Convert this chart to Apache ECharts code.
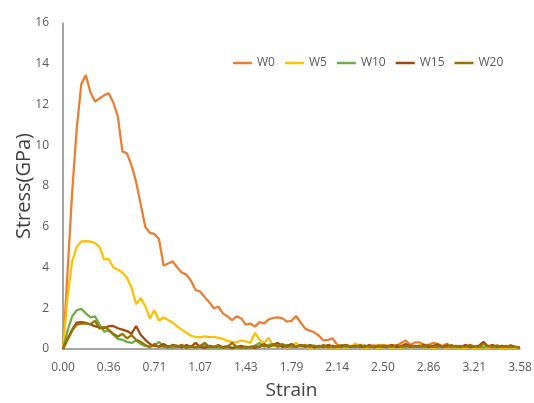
<!DOCTYPE html>
<html>
<head>
<meta charset="utf-8">
<script src="https://cdn.jsdelivr.net/npm/echarts@6/dist/echarts.min.js"></script>
<style>html,body{margin:0;padding:0;background:#fff;}#c{width:534px;height:403px;}</style>
</head>
<body>
<div id="c"></div>
<script>
const tickLabels = ['0.00','0.36','0.71','1.07','1.43','1.79','2.14','2.50','2.86','3.21','3.58'];
const seriesNames = ['W0','W5','W10','W15','W20'];
const W0 = [0,3.8,7.7,10.8,13.0,13.45,12.6,12.15,12.3,12.45,12.55,12.1,11.4,9.7,9.6,9.0,8.2,7.1,6.0,5.7,
5.65,5.4,4.1,4.2,4.3,4.0,3.75,3.65,3.35,2.9,2.82,2.55,2.3,2.0,2.08,1.75,1.6,1.42,1.6,1.5,
1.2,1.25,1.1,1.32,1.26,1.45,1.53,1.55,1.5,1.35,1.38,1.62,1.3,1.0,0.9,0.82,0.65,0.42,0.45,0.52,
0.2,0.15,0.12,0.15,0.12,0.16,0.12,0.15,0.18,0.14,0.2,0.16,0.15,0.15,0.3,0.42,0.2,0.32,0.32,0.22,
0.2,0.3,0.25,0.15,0.26,0.1,0.08,0.1,0.05,0.08,0.1,0.06,0.08,0.1,0.05,0.08,0.06,0.05,0.08,0.05,0.04];
const W5 = [0,2.6,4.3,5.0,5.28,5.3,5.27,5.2,5.0,4.4,4.42,4.0,3.9,3.75,3.5,3.0,2.2,2.5,2.1,1.5,
1.9,1.4,1.55,1.42,1.3,1.1,0.95,0.8,0.65,0.6,0.57,0.62,0.58,0.6,0.55,0.5,0.4,0.35,0.33,0.42,
0.38,0.3,0.8,0.45,0.3,0.55,0.15,0.1,0.15,0.08,0.12,0.3,0.1,0.12,0.05,0.1,0.08,0.12,0.05,0.1,
0.06,0.1,0.05,0.12,0.28,0.1,0.05,0.08,0.1,0.05,0.08,0.12,0.05,0.1,0.06,0.15,0.08,0.1,0.2,0.06,
0.1,0.05,0.08,0.12,0.05,0.1,0.06,0.08,0.05,0.1,0.06,0.08,0.05,0.07,0.1,0.05,0.08,0.06,0.05,0.07,0.05];
const W10 = [0,0.9,1.6,1.9,1.97,1.75,1.55,1.6,1.2,0.85,0.9,0.7,0.5,0.45,0.35,0.3,0.42,0.25,0.15,0.1,
0.2,0.35,0.1,0.15,0.05,0.12,0.2,0.08,0.15,0.05,0.1,0.18,0.06,0.12,0.05,0.1,0.15,0.05,0.08,0.12,
0.05,0.1,0.15,0.3,0.1,0.2,0.25,0.1,0.15,0.2,0.08,0.12,0.18,0.1,0.2,0.15,0.08,0.2,0.1,0.15,
0.1,0.2,0.08,0.12,0.15,0.1,0.18,0.08,0.12,0.1,0.15,0.08,0.2,0.1,0.12,0.08,0.15,0.1,0.12,0.08,
0.1,0.15,0.08,0.12,0.1,0.2,0.08,0.1,0.15,0.08,0.12,0.1,0.08,0.15,0.1,0.08,0.12,0.1,0.08,0.1,0.06];
const W15 = [0,0.5,0.95,1.3,1.32,1.28,1.2,1.12,1.05,1.02,1.12,1.13,1.02,0.95,0.88,0.75,1.13,0.7,0.45,0.25,
0.15,0.12,0.25,0.1,0.2,0.15,0.08,0.2,0.1,0.3,0.1,0.05,0.15,0.1,0.2,0.08,0.12,0.05,0.1,0.15,
0.08,0.1,0.05,0.12,0.25,0.1,0.2,0.3,0.1,0.15,0.25,0.1,0.2,0.12,0.18,0.08,0.15,0.1,0.2,0.12,
0.1,0.15,0.2,0.1,0.15,0.12,0.1,0.2,0.08,0.15,0.1,0.12,0.2,0.1,0.15,0.25,0.1,0.15,0.12,0.2,
0.1,0.15,0.22,0.1,0.18,0.12,0.15,0.1,0.2,0.12,0.1,0.15,0.35,0.12,0.2,0.1,0.15,0.12,0.18,0.1,0.08];
const W20 = [0,0.45,0.9,1.2,1.25,1.25,1.22,1.38,1.0,1.08,0.95,0.75,0.6,0.75,0.52,0.68,0.45,0.35,0.2,0.1,
0.25,0.1,0.15,0.08,0.18,0.1,0.2,0.05,0.12,0.08,0.15,0.3,0.1,0.08,0.15,0.05,0.1,0.3,0.1,0.05,
0.12,0.08,0.15,0.1,0.18,0.12,0.2,0.15,0.25,0.1,0.18,0.12,0.15,0.2,0.1,0.15,0.12,0.18,0.08,0.15,
0.12,0.1,0.18,0.12,0.1,0.2,0.12,0.15,0.1,0.18,0.12,0.15,0.1,0.2,0.12,0.15,0.18,0.1,0.15,0.12,
0.2,0.1,0.15,0.12,0.1,0.18,0.12,0.15,0.1,0.2,0.12,0.1,0.25,0.15,0.12,0.18,0.1,0.15,0.12,0.1,0.08];
const seriesData = [W0, W5, W10, W15, W20];
const colors = ['#ED7D31','#FFC000','#70AD47','#9E480E','#997300'];
const yTicks = {min:0, max:16, interval:2};

const categories = W0.map((_, i) => String(i));
const font = '"Open Sans", sans-serif';
const chart = echarts.init(document.getElementById('c'), null, {renderer:'canvas'});
chart.setOption({
  animation:false,
  backgroundColor:'#fff',
  color: colors,
  grid:{left:63, right:14, top:23, bottom:54, containLabel:false, outerBoundsMode:'none'},
  legend:{
    data: seriesNames, left:228, top:52, icon:'rect', itemWidth:19, itemHeight:2.5, itemGap:10,
    textStyle:{color:'#595959', fontSize:12, fontFamily:font}
  },
  xAxis:{
    type:'category', data:categories, boundaryGap:false,
    name:'Strain', nameLocation:'middle', nameGap:32, nameMoveOverlap:false,
    nameTextStyle:{color:'#404040', fontSize:19, fontFamily:font},
    axisLine:{lineStyle:{color:'#898989', width:1.5}},
    axisTick:{show:false},
    axisLabel:{interval:9, color:'#595959', fontSize:12, fontFamily:font, margin:13,
      formatter:(v, idx) => tickLabels[Math.round(idx/10)]},
    splitLine:{show:false}
  },
  yAxis:{
    type:'value', min:yTicks.min, max:yTicks.max, interval:yTicks.interval,
    name:'Stress(GPa)', nameLocation:'middle', nameGap:29, nameMoveOverlap:false,
    nameTextStyle:{color:'#404040', fontSize:20, fontFamily:font},
    axisLine:{show:true, lineStyle:{color:'#898989', width:1.5}},
    axisTick:{show:false},
    axisLabel:{color:'#595959', fontSize:12, fontFamily:font, margin:14},
    splitLine:{show:false}
  },
  series: seriesNames.map((n, k) => ({
    name:n, type:'line', data:seriesData[k], symbol:'none', smooth:false,
    lineStyle:{width:2.25, color:colors[k]}, itemStyle:{color:colors[k]}
  }))
});
</script>
</body>
</html>
